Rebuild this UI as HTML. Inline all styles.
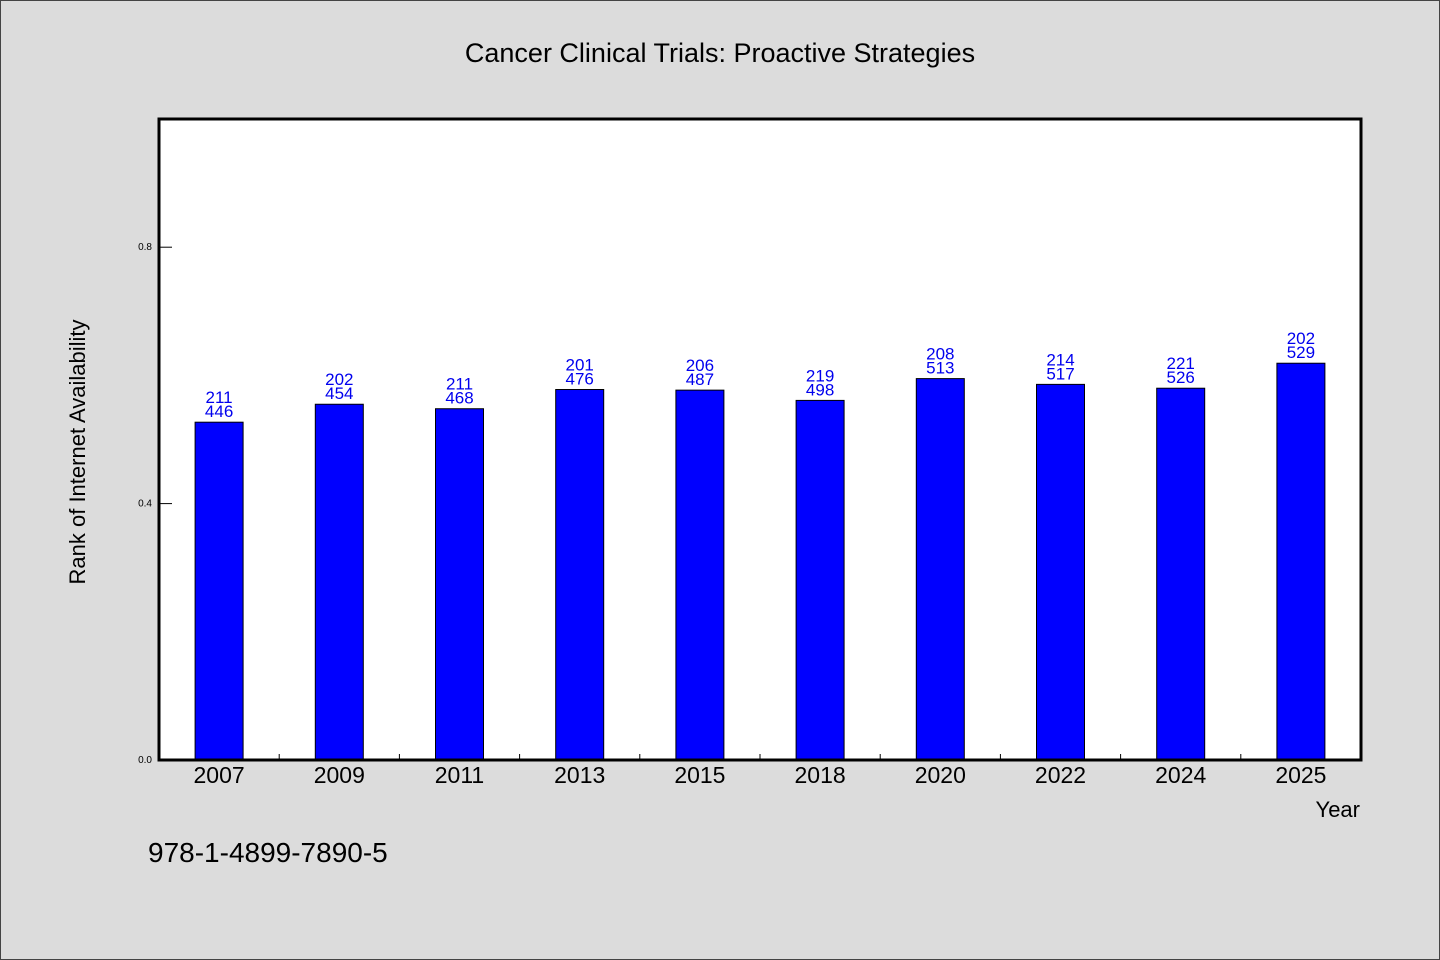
<!DOCTYPE html>
<html><head><meta charset="utf-8"><style>
html,body{margin:0;padding:0;background:#dcdcdc;}
svg{display:block;font-family:"WenQuanYi Zen Hei","Liberation Sans",sans-serif;}
</style></head><body>
<svg id="chart" width="1440" height="960" xmlns="http://www.w3.org/2000/svg">
<rect x="0.5" y="0.5" width="1439" height="959" fill="#dcdcdc" stroke="#444"/>
<text x="720" y="62" font-size="27" text-anchor="middle" fill="#000">Cancer Clinical Trials: Proactive Strategies</text>
<rect x="159" y="119" width="1202" height="641" fill="#fff"/>
<g id="marks"></g>
<rect x="159" y="119" width="1202" height="641" fill="none" stroke="#000" stroke-width="3"/>
<text transform="translate(85,452) rotate(-90)" font-size="22" text-anchor="middle" fill="#000">Rank of Internet Availability</text>
<text x="1360" y="817" font-size="22" text-anchor="end" fill="#000">Year</text>
<text x="148" y="862" font-size="28" fill="#000">978-1-4899-7890-5</text>
</svg>
<script>
const categories = ["2007","2009","2011","2013","2015","2018","2020","2022","2024","2025"];
const values = [0.527,0.555,0.548,0.578,0.577,0.561,0.595,0.586,0.580,0.619];
const topLabels = ["211","202","211","201","206","219","208","214","221","202"];
const bottomLabels = ["446","454","468","476","487","498","513","517","526","529"];
const yTicks = [0.0,0.4,0.8];
const yTickLabels = ["0.0","0.4","0.8"];

const NS="http://www.w3.org/2000/svg";
const X0=159,X1=1361,Y0=760,Y1=119;
const band=(X1-X0)/categories.length;
function xCenter(i){return X0+band*(i+0.5);}
function yScale(v){return Y0-(Y0-Y1)*v/1.0;}
const g=document.getElementById('marks');
function mk(tag,attrs){const e=document.createElementNS(NS,tag);for(const k in attrs)e.setAttribute(k,attrs[k]);g.appendChild(e);return e;}

yTicks.forEach((t,i)=>{
  const y=yScale(t);
  const l=mk('line',{x1:X0,x2:X0+13,y1:y,y2:y,stroke:'#000','stroke-width':1});
  
  
  const tx=mk('text',{x:X0-7,y:y+3,'font-size':10,'text-anchor':'end',fill:'#000'});
  tx.textContent=yTickLabels[i];
  
  
});
for(let i=1;i<categories.length;i++){
  const x=X0+band*i;
  const l=mk('line',{x1:x,x2:x,y1:Y0,y2:Y0-6,stroke:'#000','stroke-width':1});
  
  
}
categories.forEach((c,i)=>{
  const cx=xCenter(i), y=yScale(values[i]);
  const r=mk('rect',{x:cx-24,y:y,width:48,height:Y0-y,fill:'#0000ff',stroke:'#000','stroke-width':1});
  
  
  const t1=mk('text',{x:cx,y:y-19,'font-size':17,'text-anchor':'middle',fill:'#0000ee'});
  t1.textContent=topLabels[i];
  
  
  const t2=mk('text',{x:cx,y:y-5,'font-size':17,'text-anchor':'middle',fill:'#0000ee'});
  t2.textContent=bottomLabels[i];
  
  
  const xl=mk('text',{x:cx,y:783,'font-size':23,'text-anchor':'middle',fill:'#000'});
  xl.textContent=c;
  
  
});
</script>
</body></html>
